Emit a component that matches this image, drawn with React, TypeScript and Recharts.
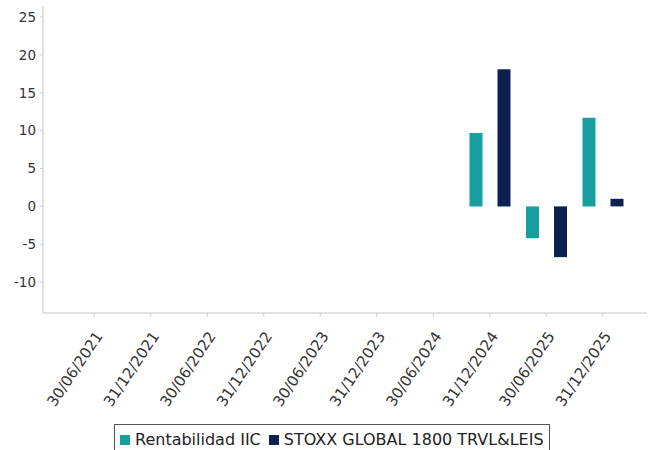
import React from 'react';
import { BarChart, Bar, XAxis, YAxis, Legend } from 'recharts';

const categories = ['30/06/2021', '31/12/2021', '30/06/2022', '31/12/2022', '30/06/2023', '31/12/2023', '30/06/2024', '31/12/2024', '30/06/2025', '31/12/2025'];
const rentabilidadIIC: (number | null)[] = [null, null, null, null, null, null, null, 9.7, -4.2, 11.7];
const stoxxGlobal: (number | null)[] = [null, null, null, null, null, null, null, 18.1, -6.7, 1.0];
const yTicks = [-10, -5, 0, 5, 10, 15, 20, 25];

const seriesNames = ['Rentabilidad IIC', 'STOXX GLOBAL 1800 TRVL&LEIS'];
const colors = ['#179e9f', '#0c2150'];

const data = categories.map((c, i) => ({ date: c, iic: rentabilidadIIC[i], stoxx: stoxxGlobal[i] }));

const FONT = '"DejaVu Sans", sans-serif';

const XTick = (props: any) => {
  const { x, y, payload } = props;
  return (
    <g transform={`translate(${x + 9},${y + 17})`}>
      <text transform="rotate(-56)" textAnchor="end" fontFamily={FONT} fontSize={15} fill="#333">
        {payload.value}
      </text>
    </g>
  );
};

const LegendBox = () => (
  <div
    style={{
      border: '1px solid #555',
      display: 'flex',
      alignItems: 'center',
      height: 30,
      width: 436,
      boxSizing: 'border-box',
      paddingLeft: 5,
      fontFamily: FONT,
      fontSize: 16,
      color: '#222',
      whiteSpace: 'nowrap',
    }}
  >
    {seriesNames.map((n, i) => (
      <span key={n} style={{ display: 'flex', alignItems: 'center', marginRight: 8 }}>
        <span style={{ display: 'inline-block', width: 10, height: 10, background: colors[i], marginRight: 5, marginTop: 2 }} />
        {n}
      </span>
    ))}
  </div>
);

export default function App() {
  return (
    <div style={{ position: 'absolute', left: 0, top: 0, width: 648, height: 450, background: '#fff', overflow: 'hidden' }}>
      <BarChart
        width={648}
        height={450}
        data={data}
        margin={{ top: 6, right: 1, bottom: 0, left: 0 }}
        barSize={13}
        barGap={15}
      >
        <XAxis
          dataKey="date"
          height={137}
          interval={0}
          padding={{ left: 23, right: 16 }}
          stroke="#c4c4c4"
          tickSize={4}
          tickLine={{ stroke: '#d0d0d0' }}
          tick={<XTick />}
        />
        <YAxis
          width={43}
          domain={[-14.07, 26.45]}
          ticks={yTicks}
          allowDataOverflow
          stroke="#c4c4c4"
          tickSize={3}
          tickMargin={4}
          tickLine={{ stroke: '#d0d0d0' }}
          tick={{ fontFamily: FONT, fontSize: 13.5, fill: '#333' }}
        />
        <Legend
          layout="horizontal"
          verticalAlign="middle"
          align="center"
          content={<LegendBox />}
          wrapperStyle={{ left: 114, top: 424, width: 436, height: 30, right: 'auto', bottom: 'auto' }}
        />
        <Bar dataKey="iic" name={seriesNames[0]} fill={colors[0]} isAnimationActive={false} />
        <Bar dataKey="stoxx" name={seriesNames[1]} fill={colors[1]} isAnimationActive={false} />
      </BarChart>
    </div>
  );
}
